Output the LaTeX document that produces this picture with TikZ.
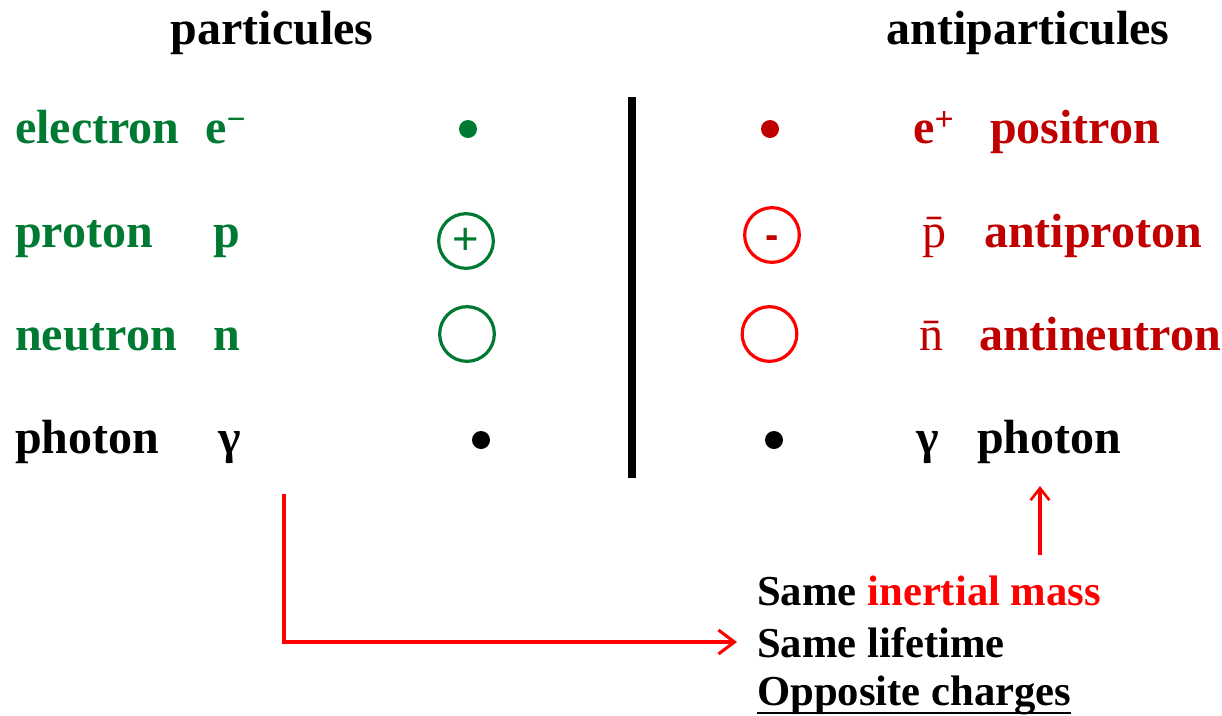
\documentclass[tikz,border=0pt]{standalone}
\usepackage{fontspec}
\setmainfont{Liberation Serif}
\newfontfamily\symfont{Liberation Sans}
\usetikzlibrary{arrows.meta}
\definecolor{pgreen}{RGB}{0,122,51}
\definecolor{dred}{RGB}{192,0,0}
\definecolor{bred}{RGB}{255,0,0}
\tikzset{
  big/.style={inner sep=0pt, anchor=base west, font=\fontsize{36}{40}\selectfont\bfseries},
  small/.style={inner sep=0pt, anchor=base west, font=\fontsize{32}{36}\selectfont\bfseries},
  ring/.style={circle, draw, line width=2.4pt, minimum size=41pt, inner sep=0pt},
  blob/.style={circle, fill, minimum size=13.5pt, inner sep=0pt},
  redarrow/.style={bred, line width=2.3pt, -{Straight Barb[length=12pt,width=18pt,line width=2.3pt]}},
}
\begin{document}
\begin{tikzpicture}[x=0.75pt,y=-0.75pt]
\useasboundingbox (0,0) rectangle (1222,715);
% titles
\node[big, anchor=base] (tl) at (272,44) {particules};
\node[big, anchor=base] (tr) at (1028,44) {antiparticules};
% left column
\node[big, pgreen] (el) at (15,143) {electron};
\node[big, pgreen] (els) at (205,143) {e\textsuperscript{−}};
\node[big, pgreen] (pr) at (15,247) {proton};
\node[big, pgreen] (prs) at (213,247) {p};
\node[big, pgreen] (ne) at (15,350) {neutron};
\node[big, pgreen] (nes) at (213,350) {n};
\node[big] (ph) at (15,453) {photon};
\node[big] (phs) at (218,453) {γ};
% left symbols
\node[blob, pgreen] (d1) at (468,129) {};
\node[ring, pgreen, font=\fontsize{34}{36}\selectfont\symfont] (c1) at (466,241) {+};
\node[ring, pgreen] (c2) at (467,334) {};
\node[blob, black] (d2) at (481,440) {};
% bar
\coordinate (bt) at (632,97);
\coordinate (bb) at (632,478);
\draw[line width=6.5pt] (bt) -- (bb);
% right symbols
\node[blob, dred] (d3) at (770,129) {};
\node[ring, bred] (c3) at (772,235) {};
\node[inner sep=0pt, text=dred, font=\fontsize{30}{30}\selectfont\symfont\bfseries, yshift=-5pt] (m3) at (c3.center) {-};
\node[ring, bred] (c4) at (769.5,334) {};
\node[blob, black] (d4) at (774,440) {};
% right column
\node[big, dred] (ers) at (913,143) {e\textsuperscript{+}};
\node[big, dred] (er) at (990,143) {positron};
\node[big, dred, font=\fontsize{36}{40}\selectfont\mdseries] (aps) at (922,247) {\=p};
\node[big, dred] (ap) at (984,247) {antiproton};
\node[big, dred, font=\fontsize{36}{40}\selectfont\mdseries] (ans) at (919,350) {\=n};
\node[big, dred] (an) at (979,350) {antineutron};
\node[big] (phrs) at (916,453) {γ};
\node[big] (phr) at (977,453) {photon};
% bottom text
\node[small] (l1) at (757,605) {Same \textcolor{bred}{inertial mass}};
\node[small] (l2) at (757,657) {Same lifetime};
\node[small] (l3) at (757,705) {Opposite charges};
\coordinate (u1) at (757,713);
\coordinate (u2) at (1071,713);
\draw[line width=2pt] (u1) -- (u2);
% arrows
\coordinate (ls) at (284,494);
\coordinate (lt) at (737,642);
\draw[redarrow] (ls) |- (lt);
\coordinate (us) at (1040,555);
\coordinate (ut) at (1040,486);
\draw[redarrow, -{Straight Barb[length=9pt,width=14pt,line width=2pt]}] (us) -- (ut);
\end{tikzpicture}
\end{document}
